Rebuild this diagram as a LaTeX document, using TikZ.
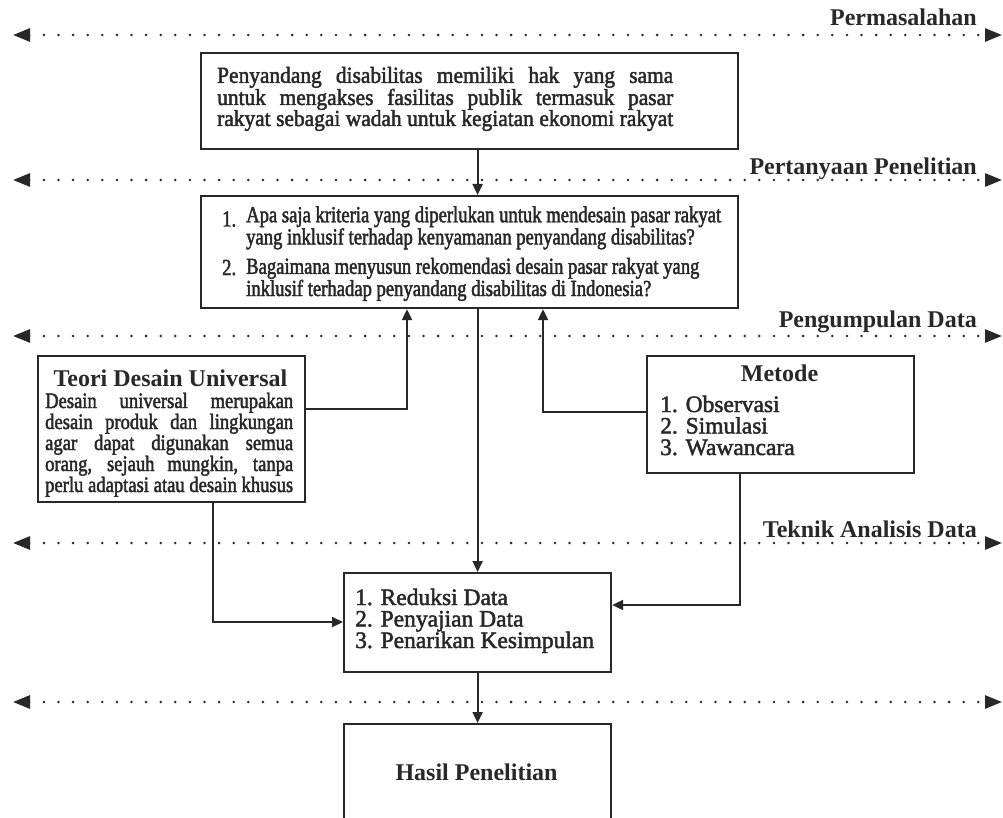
\documentclass[tikz,border=0pt]{standalone}
\usepackage{fontspec}
\setmainfont{Liberation Serif}[FakeBold=2]
\newfontfamily\condP{Liberation Serif}[FakeStretch=0.93,FakeBold=2]
\newfontfamily\condA{Liberation Serif}[FakeStretch=0.81,FakeBold=2]
\newfontfamily\condB{Liberation Serif}[FakeStretch=0.845,FakeBold=2]
\newfontfamily\labfont{Liberation Serif Bold}
\usetikzlibrary{arrows.meta,calc}
\definecolor{ink}{RGB}{40,40,40}
\begin{document}
\begin{tikzpicture}[x=1pt,y=-1pt,
  box/.style={draw=ink,line width=2.2pt,rectangle,inner sep=0pt,anchor=north west},
  conn/.style={draw=ink,line width=2.2pt,-{Triangle[length=11pt,width=10pt]}},
  dotline/.style={draw=ink,line width=2.8pt,line cap=round,dash pattern=on 0pt off 14.6pt,
    {Triangle[length=17pt,width=13pt]}-{Triangle[length=17pt,width=13pt]}},
  lab/.style={anchor=base east,inner sep=0pt,text=ink,font=\labfont\fontsize{24}{24}\selectfont},
  txt/.style={anchor=base west,inner sep=0pt,text=ink,align=left},
  ttl/.style={anchor=base,inner sep=0pt,text=ink,font=\labfont\fontsize{24}{24}\selectfont}]
\useasboundingbox (0,0) rectangle (1003,818);
\fill[white] (0,0) rectangle (1003,818);

% dotted rows
\foreach \n/\yy in {1/35,2/180,3/336,4/543,5/702}{
  \coordinate (L\n) at (13,\yy);
  \coordinate (R\n) at (1002,\yy);
  \draw[dotline] (L\n) -- (R\n);
}
\node[lab] (l1) at (977,26) {Permasalahan};
\node[lab] (l2) at (977,175) {Pertanyaan Penelitian};
\node[lab] (l3) at (977,327) {Pengumpulan Data};
\node[lab] (l4) at (977,537) {Teknik Analisis Data};

% boxes
\node[box,minimum width=537pt,minimum height=96pt] (prob) at (200,52) {};
\node[box,minimum width=537pt,minimum height=112pt] (rq) at (200,195) {};
\node[box,minimum width=267pt,minimum height=146pt] (teori) at (37,355) {};
\node[box,minimum width=267pt,minimum height=117pt] (metode) at (646,355) {};
\node[box,minimum width=267pt,minimum height=99pt] (red) at (343,572) {};
\node[box,minimum width=267pt,minimum height=115pt] (hasil) at (343,723) {};

% box 1 text (anchor = baseline of last line)
\node[txt,font=\condP\fontsize{23}{21}\selectfont] (ptext) at (217,126)
  {\makebox[456pt][s]{Penyandang disabilitas memiliki hak yang sama}\\
   \makebox[456pt][s]{untuk mengakses fasilitas publik termasuk pasar}\\
   \makebox[456pt][s]{rakyat sebagai wadah untuk kegiatan ekonomi rakyat}};

% box 2 text
\node[txt,font=\condA\fontsize{23}{20.5}\selectfont] (qnum) at (222,275) {1.\\[7.5pt]\\2.};
\node[txt,font=\condA\fontsize{23}{20.5}\selectfont] (q1) at (246,296)
  {Apa saja kriteria yang diperlukan untuk mendesain pasar rakyat\\
   yang inklusif terhadap kenyamanan penyandang disabilitas?\\[7.5pt]
   Bagaimana menyusun rekomendasi desain pasar rakyat yang\\
   inklusif terhadap penyandang disabilitas di Indonesia?};

% teori text
\node[ttl] (tt) at (170.5,386) {Teori Desain Universal};
\node[txt,font=\condB\fontsize{22}{21}\selectfont] (tbody) at (45,492)
  {\makebox[248pt][s]{Desain universal merupakan}\\
   \makebox[248pt][s]{desain produk dan lingkungan}\\
   \makebox[248pt][s]{agar dapat digunakan semua}\\
   \makebox[248pt][s]{orang, sejauh mungkin, tanpa}\\
   \makebox[248pt][s]{perlu adaptasi atau desain khusus}};

% metode text
\node[ttl] (mt) at (779.5,381) {Metode};
\node[txt,font=\fontsize{23.5}{21.5}\selectfont] (mlist) at (660,455)
  {1. Observasi\\2. Simulasi\\3. Wawancara};
\node[txt,font=\fontsize{23.5}{21.5}\selectfont] (rlist) at (355,648)
  {1. Reduksi Data\\2. Penyajian Data\\3. Penarikan Kesimpulan};

\node[ttl] (ht) at (476.5,780) {Hasil Penelitian};

% connectors
\draw[conn] (prob.south -| red.north) -- (rq.north -| red.north);
\draw[conn] (rq.south -| red.north) -- (red.north);
\draw[conn] (red.south) -- (hasil.north);
\coordinate (tj) at (407,409);
\draw[conn] (teori.east |- tj) -- (tj) -- (tj |- rq.south);
\coordinate (mj) at (543,412);
\draw[conn] (metode.west |- mj) -- (mj) -- (mj |- rq.south);
\coordinate (mk) at (740,605);
\draw[conn] (metode.south -| mk) -- (mk) -- (red.east |- mk);
\coordinate (tk) at (213,622);
\draw[conn] (teori.south -| tk) -- (tk) -- (red.west |- tk);
\end{tikzpicture}
\end{document}
